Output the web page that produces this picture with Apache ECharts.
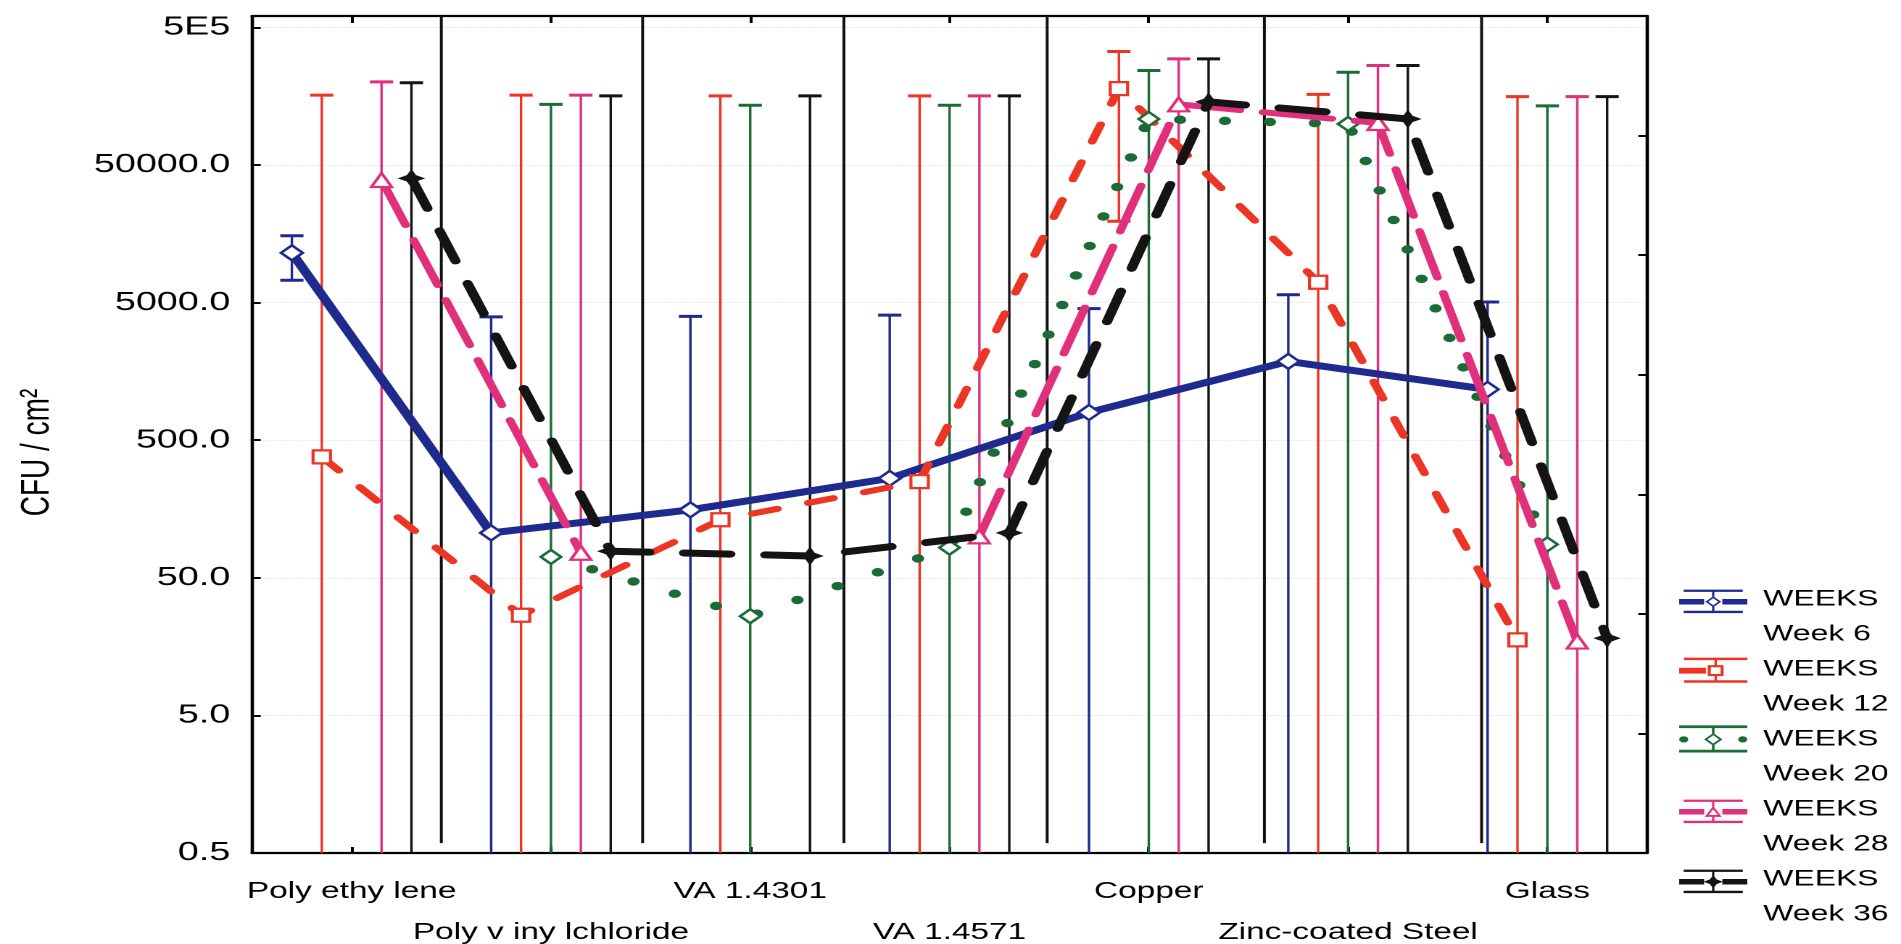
<!DOCTYPE html>
<html>
<head>
<meta charset="utf-8">
<script src="https://cdn.jsdelivr.net/npm/echarts@6/dist/echarts.min.js"></script>
<style>
html, body { margin: 0; padding: 0; background: #fff; overflow: hidden; width: 1901px; height: 944px; }
#chart { width: 1311px; height: 944px; transform: scaleX(1.45004); transform-origin: 0 0; }
</style>
</head>
<body>
<div id="chart"></div>
<script>
// ---------------- data ----------------
const categories = ['Poly ethy lene', 'Poly v iny lchloride', 'VA 1.4301', 'VA 1.4571', 'Copper', 'Zinc-coated Steel', 'Glass'];
const seriesNames = ['Week 6', 'Week 12', 'Week 20', 'Week 28', 'Week 36'];

const week6   = [11500, 106, 156, 264, 795, 1870, 1170];
const week6Hi = [15300, 3940, 3970, 4050, 4520, 5700, 5050];
const week6Lo = [7270, 0, 0, 0, 0, 0, 0];

const week12   = [378, 26.7, 132, 250, 179500, 7030, 17.7];
const week12Hi = [161000, 161000, 159000, 159000, 334000, 163000, 157000];
const week12Lo = [0, 0, 0, 0, 19500, 0, 0];

const week20   = [null, 70.9, 26.3, 82.8, 108000, 99400, 87.5];
const week20Hi = [null, 138000, 136000, 136000, 243000, 236000, 134600];
const week20Lo = [null, 0, 0, 0, 0, 0, 0];

const week28   = [38900, 76, null, 100, 138000, 101000, 17.2];
const week28Hi = [201000, 161000, null, 159000, 295000, 264000, 157000];
const week28Lo = [0, 0, null, 0, 0, 0, 0];

const week36   = [40000, 78, 72, 106, 143800, 108000, 18.2];
const week36Hi = [198000, 159000, 159000, 159000, 295000, 264000, 157000];
const week36Lo = [0, 0, 0, 0, 0, 0, 0];

const yTickLabels = ['0.5', '5.0', '50.0', '500.0', '5000.0', '50000.0', '5E5'];
const separatorPos = [0.45, 1.46, 2.47, 3.49, 4.58, 5.67];
const separatorLow = 0.59;
const yAxisTop = 605000;

// ---------------- helpers ----------------
const BASE = 0.5;
const tr = v => Math.log10(v / BASE);
const Y_MAX = tr(yAxisTop);
const FONT = 'Liberation Sans, Arial, Helvetica, sans-serif';

const values = [week6, week12, week20, week28, week36];
const highs  = [week6Hi, week12Hi, week20Hi, week28Hi, week36Hi];
const lows   = [week6Lo, week12Lo, week20Lo, week28Lo, week36Lo];
const colors = ['#1f2a8f', '#ec3524', '#1b6b37', '#e0307c', '#141414'];
const offsets = [-0.3, -0.15, 0, 0.15, 0.3];
const symbols = ['diamond', 'rect', 'diamond', 'triangle',
  'path://M30,6 L33.2,12.3 L39.5,15.5 L33.2,18.7 L30,25 L26.8,18.7 L20.5,15.5 L26.8,12.3 Z'];
const symbolSizes = [15, [12, 13], 14, 14, 19];
const symbolFill = ['#fff', '#fff', '#fff', '#fff', '#141414'];
const lineTypes = ['solid', [18, 22], [0, 31], [48, 16], [32, 24]];
const lineWidths = [7, 6, 8.5, 6, 7];
const catIdx = categories.map((c, i) => i);
const evenIdx = catIdx.filter(i => i % 2 === 0);
const oddIdx = catIdx.filter(i => i % 2 === 1);

// legend icons (error-bar style symbol, padded downwards so it aligns with the first text line)
const pad = ' M30,70 L30.02,70 L30,69.98 Z';
const bars = 'M4,0 H56 V3 H4 Z M4,27 H56 V30 H4 Z M29,3 H31 V9 H29 Z M29,22 H31 V27 H29 Z';
const lineL = ' M0,12 H22 V19 H0 Z';
const lineR = ' M38,12 H60 V19 H38 Z';
const diamondRing = ' M30,8.5 L37,15.5 L30,22.5 L23,15.5 Z M30,11 L25.5,15.5 L30,20 L34.5,15.5 Z';
const squareRing = ' M23.5,9 H36.5 V22 H23.5 Z M26,11.5 V19.5 H34 V11.5 Z';
const triRing = ' M30,8 L37.5,22 H22.5 Z M30,12.5 L26,19.5 H34 Z';
const star = ' M30,7 L33,12.5 L38.5,15.5 L33,18.5 L30,24 L27,18.5 L21.5,15.5 L27,12.5 Z';
const dots = ' M4,15.5 a3.5,3.5 0 1,0 7,0 a3.5,3.5 0 1,0 -7,0 Z M49,15.5 a3.5,3.5 0 1,0 7,0 a3.5,3.5 0 1,0 -7,0 Z';
const legendIcons = [
  'path://' + bars + lineL + lineR + diamondRing + pad,
  'path://' + bars + lineL + squareRing + pad,
  'path://' + bars + dots + diamondRing + pad,
  'path://' + bars + lineL + lineR + triRing + pad,
  'path://' + bars + lineL + lineR + star + pad
];

function errRenderer(color) {
  return function (params, api) {
    const x = api.value(0), lo = api.value(1), hi = api.value(2);
    const cs = params.coordSys;
    const top = api.coord([x, hi]);
    const hasLo = lo > -0.5;
    const yLo = hasLo ? api.coord([x, lo])[1] : cs.y + cs.height;
    const px = top[0];
    const children = [
      { type: 'line', shape: { x1: px, y1: top[1], x2: px, y2: yLo }, style: { stroke: color, lineWidth: 1.7 } },
      { type: 'line', shape: { x1: px - 8, y1: top[1], x2: px + 8, y2: top[1] }, style: { stroke: color, lineWidth: 3 } }
    ];
    if (hasLo) {
      children.push({ type: 'line', shape: { x1: px - 8, y1: yLo, x2: px + 8, y2: yLo }, style: { stroke: color, lineWidth: 3 } });
    }
    return { type: 'group', children: children };
  };
}

const series = [];
// separator lines
series.push({
  type: 'custom',
  name: 'sep',
  silent: true,
  z: 1,
  data: separatorPos.map(p => [p, tr(separatorLow)]),
  encode: { x: 0, y: 1 },
  renderItem: function (params, api) {
    const p = api.coord([api.value(0), api.value(1)]);
    const cs = params.coordSys;
    return { type: 'line', shape: { x1: p[0], y1: p[1], x2: p[0], y2: cs.y }, style: { stroke: '#111', lineWidth: 2 } };
  }
});
// error bars
values.forEach((vals, s) => {
  const data = [];
  vals.forEach((v, i) => {
    if (highs[s][i] == null) return;
    const lo = lows[s][i];
    data.push([i + offsets[s], lo > BASE ? tr(lo) : -1, tr(highs[s][i])]);
  });
  series.push({
    type: 'custom',
    name: seriesNames[s],
    silent: true,
    z: 2,
    data: data,
    encode: { x: 0, y: 2 },
    renderItem: errRenderer(colors[s])
  });
});
// mean lines with markers
values.forEach((vals, s) => {
  series.push({
    type: 'line',
    name: seriesNames[s],
    z: 4 + s,
    data: vals.map((v, i) => [i + offsets[s], v == null ? null : tr(v)]),
    connectNulls: false,
    symbol: symbols[s],
    symbolSize: symbolSizes[s],
    showSymbol: true,
    lineStyle: { color: colors[s], width: lineWidths[s], type: lineTypes[s], cap: 'round' },
    itemStyle: { color: symbolFill[s], borderColor: colors[s], borderWidth: s === 4 ? 0 : 2.2 }
  });
});

const axisLineStyle = { color: '#000', width: 2.3 };
const xLabelStyle = { fontSize: 23, fontFamily: FONT, color: '#000' };

const option = {
  animation: false,
  backgroundColor: '#fff',
  grid: { left: 252 / 1.45004, right: 254 / 1.45004, top: 16, bottom: 82, containLabel: false },
  legend: {
    orient: 'vertical',
    left: 1153,
    top: 577,
    itemWidth: 47,
    itemHeight: 70,
    itemGap: 0,
    selectedMode: false,
    formatter: name => 'WEEKS\n' + name,
    textStyle: { fontSize: 22, lineHeight: 35, fontFamily: FONT, color: '#000', padding: [0, 0, 0, 6] },
    data: seriesNames.map((n, i) => ({ name: n, icon: legendIcons[i], itemStyle: { color: colors[i], borderWidth: 0, opacity: 1 } }))
  },
  xAxis: [
    {
      type: 'value', min: -0.5, max: 6.5, position: 'bottom',
      axisLine: { show: true, onZero: false, lineStyle: axisLineStyle },
      axisTick: { show: true, inside: true, length: 6, customValues: catIdx, lineStyle: { color: '#000', width: 2 } },
      axisLabel: Object.assign({
        customValues: evenIdx,
        formatter: v => categories[Math.round(v)],
        margin: 27
      }, xLabelStyle),
      splitLine: { show: false }
    },
    {
      type: 'value', min: -0.5, max: 6.5, position: 'top',
      axisLine: { show: true, onZero: false, lineStyle: axisLineStyle },
      axisTick: { show: true, inside: true, length: 7, customValues: catIdx, lineStyle: { color: '#000', width: 2 } },
      axisLabel: { show: false },
      splitLine: { show: false }
    },
    {
      type: 'value', min: -0.5, max: 6.5, position: 'bottom', offset: 0,
      axisLine: { show: false, onZero: false },
      axisTick: { show: false },
      axisLabel: Object.assign({
        customValues: oddIdx,
        formatter: v => categories[Math.round(v)],
        margin: 68
      }, xLabelStyle),
      splitLine: { show: false }
    }
  ],
  yAxis: [
    {
      type: 'value', min: 0, max: Y_MAX, interval: 1, position: 'left',
      axisLine: { show: true, onZero: false, lineStyle: axisLineStyle },
      axisTick: { show: true, inside: true, length: 6, customValues: [0, 1, 2, 3, 4, 5, 6], lineStyle: { color: '#000', width: 2 } },
      axisLabel: {
        customValues: [0, 1, 2, 3, 4, 5, 6],
        formatter: v => yTickLabels[Math.round(v)],
        fontSize: 26, fontFamily: FONT, color: '#000', margin: 15
      },
      splitLine: { show: true, lineStyle: { color: '#e2e2e2', type: 'dotted', width: 1 } },
      name: 'CFU / cm²',
      nameLocation: 'middle',
      nameRotate: 90,
      nameGap: 134,
      nameTextStyle: { fontSize: 28, fontFamily: FONT, color: '#000', padding: [0, 36, 0, 0] }
    },
    {
      type: 'value', min: 0, max: 7, interval: 1, position: 'right',
      axisLine: { show: true, onZero: false, lineStyle: axisLineStyle },
      axisTick: { show: true, inside: true, length: 6, lineStyle: { color: '#000', width: 2 } },
      axisLabel: { show: false },
      splitLine: { show: false }
    }
  ],
  series: series
};

const chart = echarts.init(document.getElementById('chart'), null, { renderer: 'canvas', devicePixelRatio: 2 });
chart.setOption(option);
</script>
</body>
</html>
